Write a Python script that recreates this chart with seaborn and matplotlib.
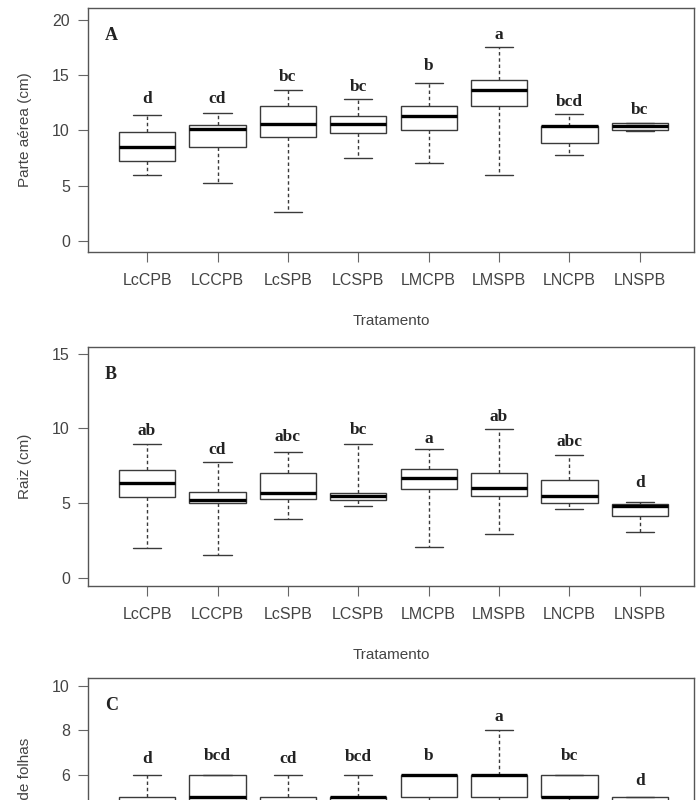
import numpy as np
import pandas as pd
import matplotlib
matplotlib.use("Agg")
import matplotlib.pyplot as plt
import seaborn as sns

# treatments on the x axis
tratamentos = ["LcCPB", "LCCPB", "LcSPB", "LCSPB", "LMCPB", "LMSPB", "LNCPB", "LNSPB"]

# five-number summaries (min, Q1, median, Q3, max)
parte_aerea = [
    [6.0, 7.2, 8.5, 9.8, 11.4],
    [5.2, 8.5, 10.1, 10.5, 11.6],
    [2.6, 9.4, 10.55, 12.15, 13.6],
    [7.5, 9.75, 10.6, 11.25, 12.85],
    [7.0, 10.05, 11.25, 12.15, 14.3],
    [6.0, 12.15, 13.6, 14.5, 17.5],
    [7.8, 8.85, 10.4, 10.4, 11.5],
    [9.9, 10.0, 10.35, 10.65, 10.7],
]
raiz = [
    [2.0, 5.4, 6.36, 7.19, 8.93],
    [1.5, 5.0, 5.22, 5.73, 7.75],
    [3.95, 5.24, 5.67, 7.03, 8.41],
    [4.8, 5.22, 5.45, 5.67, 8.93],
    [2.05, 5.96, 6.7, 7.3, 8.59],
    [2.95, 5.45, 6.0, 7.0, 9.98],
    [4.62, 5.0, 5.45, 6.52, 8.19],
    [3.05, 4.1, 4.8, 4.91, 5.07],
]
# lower part of panel C is cut off in the source, values below 5 are guesses
folhas = [
    [3, 4, 4, 5, 6],
    [3, 4, 5, 6, 6],
    [3, 4, 4, 5, 6],
    [3, 4, 5, 5, 6],
    [4, 5, 6, 6, 6],
    [3, 5, 6, 6, 8],
    [4, 5, 5, 6, 6],
    [3, 4, 4, 5, 5],
]

# Tukey letters and the height they sit at
letras_a = ["d", "cd", "bc", "bc", "b", "a", "bcd", "bc"]
letras_a_y = [12.8, 12.8, 14.8, 13.9, 15.8, 18.6, 12.6, 11.85]
letras_b = ["ab", "cd", "abc", "bc", "a", "ab", "abc", "d"]
letras_b_y = [9.8, 8.57, 9.42, 9.87, 9.3, 10.76, 9.08, 6.34]
letras_c = ["d", "bcd", "cd", "bcd", "b", "a", "bc", "d"]
letras_c_y = [6.7, 6.85, 6.7, 6.8, 6.85, 8.6, 6.85, 5.7]

ylabels = ["Parte aérea (cm)", "Raiz (cm)", "Número de folhas"]
ypanel = ["A", "B", "C"]
yticks = [[0, 5, 10, 15, 20], [0, 5, 10, 15], [6, 8, 10]]


def to_long(summaries):
    rows = []
    for trat, vals in zip(tratamentos, summaries):
        for v in vals:
            rows.append({"Tratamento": trat, "valor": v})
    return pd.DataFrame(rows)


sns.set_style("ticks")
plt.rcParams["font.family"] = ["Liberation Sans", "DejaVu Sans"]
line_col = "#3a3a3a"
text_col = "#444444"

fig = plt.figure(figsize=(6.96, 8.0), dpi=100)
W, H = 696.0, 800.0

# axes boxes in pixels: (top, bottom); panel C runs past the bottom edge
rows_px = [(8, 252), (347, 586), (678, 918)]
ylims = [(-1.0, 21.05), (-0.56, 15.45), (-0.44, 10.35)]
datasets = [parte_aerea, raiz, folhas]
letras = [(letras_a, letras_a_y), (letras_b, letras_b_y), (letras_c, letras_c_y)]

for k in range(3):
    top, bot = rows_px[k]
    ax = fig.add_axes([88 / W, 1 - bot / H, 606 / W, (bot - top) / H])
    df = to_long(datasets[k])
    sns.boxplot(data=df, x="Tratamento", y="valor", order=tratamentos, ax=ax,
                whis=(0, 100), width=0.8, color="white", linecolor=line_col,
                linewidth=1.0, showfliers=False,
                medianprops=dict(color="black", linewidth=2.4),
                whiskerprops=dict(linestyle=(0, (2.5, 2))))
    ax.set_xlim(-0.84, 7.77)
    ax.set_ylim(*ylims[k])
    ax.set_yticks(yticks[k])
    for s in ax.spines.values():
        s.set_visible(True)
        s.set_color("#555555")
        s.set_linewidth(1.0)
    ax.tick_params(axis="x", direction="out", length=7, width=0.8, color="#666666",
                   pad=8, labelsize=11.5, labelcolor=text_col)
    ax.tick_params(axis="y", direction="out", length=7, width=0.8, color="#666666",
                   pad=6, labelsize=11.5, labelcolor=text_col)
    ax.set_ylabel(ylabels[k], fontsize=11, color=text_col)
    ax.yaxis.set_label_coords(-0.093, 0.5)
    if k < 2:
        ax.set_xlabel("Tratamento", fontsize=11, color=text_col)
        ax.xaxis.set_label_coords(0.5, -62 / (bot - top))
    else:
        # tick labels and axis title of C fall outside the picture
        ax.set_xlabel("")
        ax.tick_params(axis="x", labelbottom=False)

    labs, ys = letras[k]
    for i, (lab, y) in enumerate(zip(labs, ys)):
        ax.text(i, y, lab, ha="center", va="center", fontsize=12.5,
                fontweight="bold", family=["Liberation Serif", "DejaVu Serif"],
                color="#222222")
    ax.text(0.028, 1 - 27 / (bot - top), ypanel[k], transform=ax.transAxes,
            ha="left", va="center", fontsize=13, fontweight="bold",
            family=["Liberation Serif", "DejaVu Serif"], color="#222222")

fig.savefig("out.png", dpi=100)
